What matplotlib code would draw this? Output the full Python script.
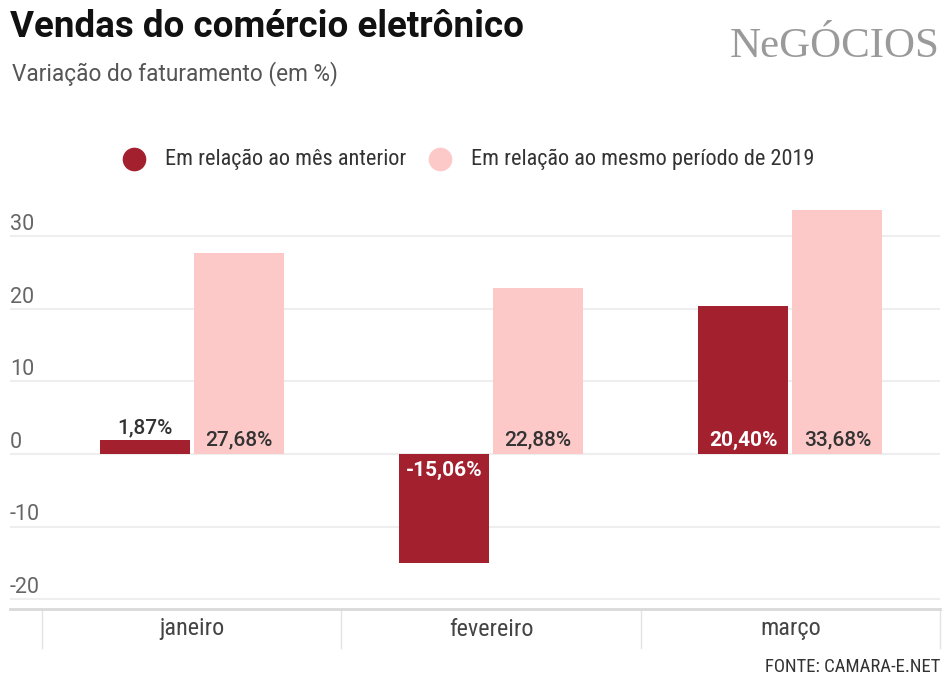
import matplotlib
matplotlib.use("Agg")
import matplotlib.pyplot as plt
import matplotlib.transforms as mtransforms
import numpy as np

plt.rcParams['font.family'] = ['Roboto', 'DejaVu Sans']

# Data
meses = ["janeiro", "fevereiro", "março"]
mes_anterior = [1.87, -15.06, 20.40]
mesmo_periodo_2019 = [27.68, 22.88, 33.68]
serie_nomes = ["Em relação ao mês anterior", "Em relação ao mesmo período de 2019"]
y_ticks = [-20, -10, 0, 10, 20, 30]

COR_ESCURA = "#A3202F"
COR_CLARA = "#FDC8C8"
NARROW = ['Roboto Condensed', 'Liberation Sans Narrow', 'Roboto', 'DejaVu Sans']

W, H = 945, 679
fig = plt.figure(figsize=(W / 100, H / 100), dpi=100)
fig.patch.set_facecolor("white")

def fx(px):
    return px / W

def fy(py):
    return 1 - py / H

# Plot area
ax_top, ax_bot = 200, 609
ax = fig.add_axes([fx(10), fy(ax_bot), fx(930), (ax_bot - ax_top) / H])
ax.set_xlim(-0.607, 2.5)
ax.set_ylim(-21.35, 35)
ax.set_facecolor("white")
for s in ["top", "right", "left"]:
    ax.spines[s].set_visible(False)
ax.spines["bottom"].set_color("#d9d9d9")
ax.spines["bottom"].set_linewidth(2)
ax.set_xticks([])
ax.set_yticks([])

# Grid lines and value labels on the y axis
for t in y_ticks:
    ax.axhline(t, color="#eeeeee", lw=1.5, zorder=0)
    ax.annotate(f"{t}", xy=(0, t), xycoords=("axes fraction", "data"),
                xytext=(0, 4.5), textcoords="offset points",
                ha="left", va="baseline", fontsize=15.5, color="#666666")

x = np.arange(len(meses))
largura = 0.3
desloc = 0.157
b1 = ax.bar(x - desloc, mes_anterior, largura, color=COR_ESCURA, zorder=2)
b2 = ax.bar(x + desloc, mesmo_periodo_2019, largura, color=COR_CLARA, zorder=2)

def fmt(v):
    return f"{v:.2f}".replace(".", ",") + "%"

# Value labels
ROT = 15
for xi, v in zip(x - desloc, mes_anterior):
    if v < 0:
        ax.annotate(fmt(v), (xi, 0), xytext=(0, -5), textcoords="offset points",
                    ha="center", va="top", fontsize=ROT, fontweight="bold",
                    color="white", zorder=3)
    elif v < 5:
        ax.annotate(fmt(v), (xi, v), xytext=(0, 2), textcoords="offset points",
                    ha="center", va="bottom", fontsize=ROT, fontweight="medium",
                    color="#333333", zorder=3)
    else:
        ax.annotate(fmt(v), (xi, 0), xytext=(0, 3), textcoords="offset points",
                    ha="center", va="bottom", fontsize=ROT, fontweight="bold",
                    color="white", zorder=3)
for xi, v in zip(x + desloc, mesmo_periodo_2019):
    ax.annotate(fmt(v), (xi, 0), xytext=(0, 3), textcoords="offset points",
                ha="center", va="bottom", fontsize=ROT, fontweight="medium",
                color="#333333", zorder=3)

# Category band below the axis
trans = mtransforms.blended_transform_factory(ax.transData, ax.transAxes)
sep_len = 39 / (ax_bot - ax_top)
for b in [-0.5, 0.5, 1.5, 2.5]:
    ax.plot([b, b], [0, -sep_len], transform=trans, color="#e3e3e3", lw=1,
            clip_on=False)
for xi, m in zip(x, meses):
    ax.text(xi, -20 / (ax_bot - ax_top), m, transform=trans, ha="center",
            va="center", fontsize=17.5, color="#444444", family=NARROW)

# Titles
fig.text(fx(10), fy(27), "Vendas do comércio eletrônico", fontsize=26.5,
         fontweight="bold", color="#111111", ha="left", va="center")
fig.text(fx(12), fy(74), "Variação do faturamento (em %)", fontsize=16.3,
         color="#555555", ha="left", va="center")

# Logo
fig.text(fx(940), fy(47), "NeGÓCIOS", fontsize=31, color="#9a9a9a",
         family=["Liberation Serif", "DejaVu Serif"], ha="right", va="center")

# Legend
for cx, tx, nome, cor in [(134, 165, serie_nomes[0], COR_ESCURA),
                          (440, 471, serie_nomes[1], COR_CLARA)]:
    fig.lines.append(plt.Line2D([fx(cx)], [fy(159)], marker="o", markersize=16,
                                color=cor, transform=fig.transFigure))
    fig.text(fx(tx), fy(159), nome, fontsize=16, color="#333333",
             ha="left", va="center", family=NARROW)

# Source
fig.text(fx(940), fy(667), "FONTE: CAMARA-E.NET", fontsize=13.5,
         color="#333333", ha="right", va="center", family=NARROW)

fig.savefig("out.png", dpi=100, facecolor="white")
